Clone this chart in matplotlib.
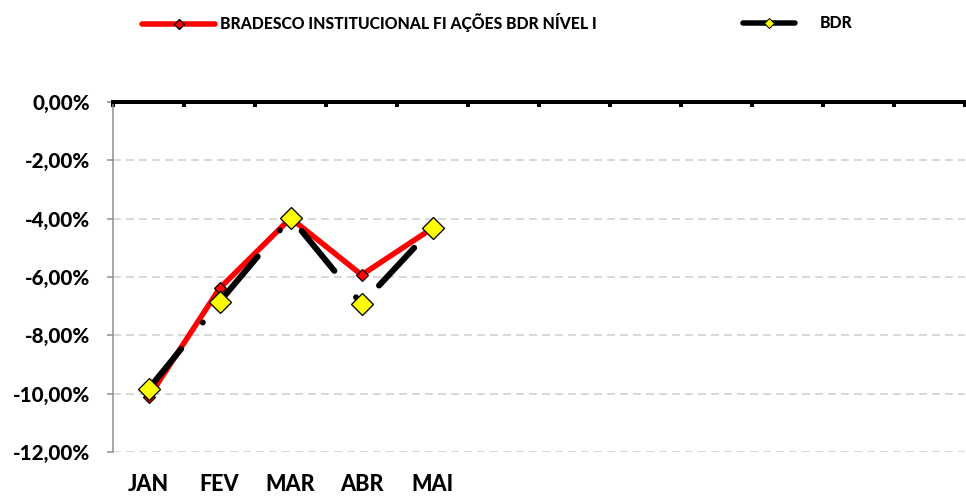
import numpy as np
import matplotlib
matplotlib.use("Agg")
import matplotlib.pyplot as plt
from matplotlib.lines import Line2D
from matplotlib.ticker import FixedLocator, FuncFormatter

plt.rcParams['font.family'] = ['Lato', 'DejaVu Sans']
plt.rcParams['font.weight'] = 'black'
W = 'black'

# ---- data ----
slots = ['JAN', 'FEV', 'MAR', 'ABR', 'MAI', '', '', '', '', '', '', '']
months = ['JAN', 'FEV', 'MAR', 'ABR', 'MAI']
fundo = [-10.13, -6.39, -3.98, -5.93, -4.32]
bdr = [-9.84, -6.85, -3.96, -6.93, -4.32]
label_fundo = 'BRADESCO INSTITUCIONAL FI AÇÕES BDR NÍVEL I'
label_bdr = 'BDR'
yticks = [0, -2, -4, -6, -8, -10, -12]

fig = plt.figure(figsize=(9.66, 4.97), dpi=100)
ax = fig.add_axes([113/966, 1-452/497, (965.5-113)/966, (452-102)/497])

x = np.arange(len(months))
px = 72/100  # points per pixel

# red fund line
ax.plot(x, fundo, color='#FF0000', lw=5.5*px, solid_capstyle='round', zorder=3,
        marker='D', markersize=8.5*px, markerfacecolor='#FF0000',
        markeredgecolor='black', markeredgewidth=1.2*px)
# black dash-dot BDR line
ax.plot(x, bdr, color='black', lw=6*px, linestyle=(0, (8.6, 5.7, 0.01, 5.7)),
        dash_capstyle='round', zorder=4)
# yellow markers
ax.plot(x, bdr, linestyle='none', marker='D', markersize=16*px,
        markerfacecolor='#FFFF00', markeredgecolor='black',
        markeredgewidth=1.3*px, zorder=5)

ax.set_xlim(-0.5, len(slots) - 0.5)
ax.set_ylim(-12, 0)

ax.set_yticks(yticks)
ax.yaxis.set_major_formatter(FuncFormatter(lambda v, p: ('%.2f%%' % v).replace('.', ',') if v != 0 else '0,00%'))
ax.set_xticks(np.arange(len(slots)))
ax.set_xticklabels(slots)
ax.xaxis.set_minor_locator(FixedLocator(np.arange(-0.5, len(slots), 1)))

ax.tick_params(axis='x', which='major', bottom=True, top=False, length=0,
               labelsize=15.5, pad=16, colors='black')
ax.tick_params(axis='x', which='minor', bottom=False, top=True, direction='in',
               length=5*px, width=4*px, color='black')
ax.tick_params(axis='y', which='major', left=True, length=6*px, width=1.5*px,
               color='#8C8C8C', labelsize=14.8, pad=12, labelcolor='black')
for lab in ax.get_xticklabels() + ax.get_yticklabels():
    lab.set_fontweight(W)

ax.spines['bottom'].set_visible(False)
ax.spines['right'].set_visible(False)
ax.spines['top'].set_linewidth(4*px)
ax.spines['top'].set_color('black')
ax.spines['left'].set_linewidth(1.5*px)
ax.spines['left'].set_color('#8C8C8C')

ax.grid(axis='y', color='#D9D9D9', linestyle=(0, (4, 2.5)), linewidth=2*px)
ax.set_axisbelow(True)

# legends
fs = 11.3
fs_px = fs / px
h1 = Line2D([], [], color='#FF0000', lw=5.5*px, solid_capstyle='round',
            marker='D', markersize=7*px, markerfacecolor='#FF0000',
            markeredgecolor='black', markeredgewidth=1.3*px)
h2 = Line2D([], [], color='black', lw=5.5*px, solid_capstyle='round',
            marker='D', markersize=7*px, markerfacecolor='#FFFF00',
            markeredgecolor='black', markeredgewidth=1.0*px)
leg_kw = dict(frameon=False, borderpad=0, borderaxespad=0, loc='center left',
              prop={'family': ['Lato', 'DejaVu Sans'], 'weight': W, 'size': fs})
fig.legend([h1], [label_fundo], bbox_to_anchor=(142/966, 1-23/497),
           handlelength=73/fs_px, handletextpad=5/fs_px, **leg_kw)
fig.legend([h2], [label_bdr], bbox_to_anchor=(743/966, 1-23/497),
           handlelength=52/fs_px, handletextpad=25/fs_px, **leg_kw)

fig.savefig('out.png', dpi=100)
